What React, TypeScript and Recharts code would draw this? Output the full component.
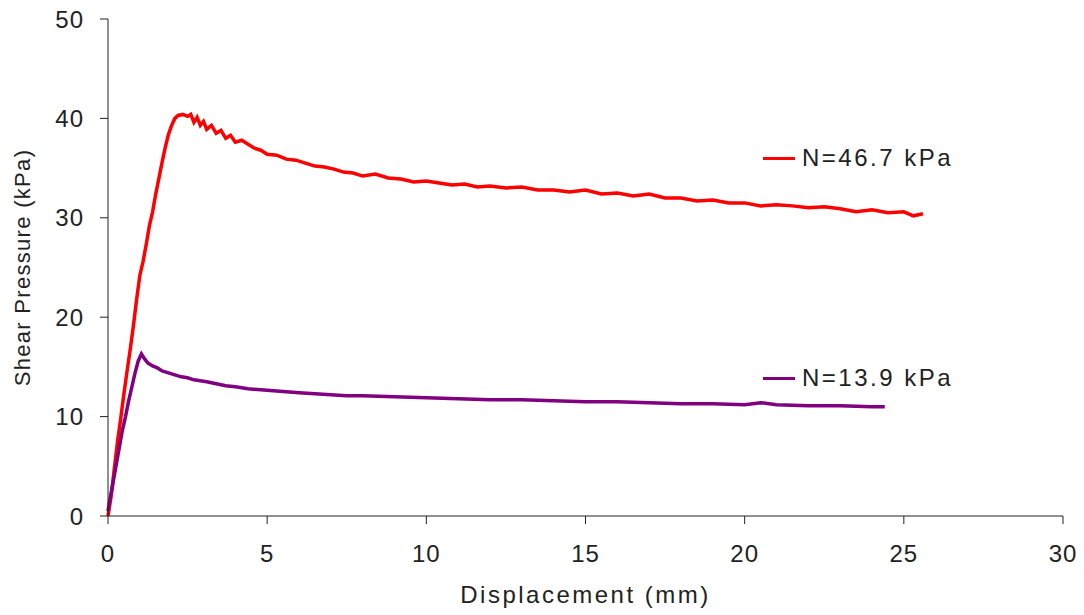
import { LineChart, Line, XAxis, YAxis } from "recharts"

const xTicks = [0, 5, 10, 15, 20, 25, 30]
const yTicks = [0, 10, 20, 30, 40, 50]

// displacement (mm) / shear pressure (kPa)
const highX = [
  0, 0.1, 0.2, 0.3, 0.4, 0.5, 0.6, 0.7, 0.8, 0.9, 1.0, 1.1, 1.2, 1.3, 1.4, 1.5, 1.6, 1.7, 1.8, 1.9,
  2.0, 2.1, 2.2, 2.35, 2.5, 2.6, 2.7, 2.8, 2.9, 3.0, 3.1, 3.25, 3.4, 3.55, 3.7, 3.85, 4.0, 4.2, 4.4,
  4.6, 4.8, 5.0, 5.3, 5.6, 5.9, 6.2, 6.5, 6.8, 7.1, 7.4, 7.7, 8.0, 8.4, 8.8, 9.2, 9.6, 10.0, 10.4,
  10.8, 11.2, 11.6, 12.0, 12.5, 13.0, 13.5, 14.0, 14.5, 15.0, 15.5, 16.0, 16.5, 17.0, 17.5, 18.0,
  18.5, 19.0, 19.5, 20.0, 20.5, 21.0, 21.5, 22.0, 22.5, 23.0, 23.5, 24.0, 24.5, 25.0, 25.3, 25.6,
]
const highY = [
  0, 2, 4.8, 7.5, 9.8, 12.3, 14.6, 16.8, 19.2, 21.8, 24.2, 25.6, 27.3, 29.2, 30.6, 32.4, 34.0, 35.6,
  37.1, 38.4, 39.3, 40.0, 40.3, 40.4, 40.2, 40.4, 39.6, 40.1, 39.3, 39.7, 38.9, 39.3, 38.5, 38.8,
  38.0, 38.3, 37.6, 37.8, 37.4, 37.0, 36.8, 36.4, 36.3, 35.9, 35.8, 35.5, 35.2, 35.1, 34.9, 34.6,
  34.5, 34.2, 34.4, 34.0, 33.9, 33.6, 33.7, 33.5, 33.3, 33.4, 33.1, 33.2, 33.0, 33.1, 32.8, 32.8,
  32.6, 32.8, 32.4, 32.5, 32.2, 32.4, 32.0, 32.0, 31.7, 31.8, 31.5, 31.5, 31.2, 31.3, 31.2, 31.0,
  31.1, 30.9, 30.6, 30.8, 30.5, 30.6, 30.2, 30.4,
]

const lowX = [
  0, 0.05, 0.15, 0.25, 0.35, 0.45, 0.55, 0.65, 0.75, 0.85, 0.95, 1.05, 1.15, 1.25, 1.4, 1.55, 1.7,
  1.9, 2.1, 2.3, 2.5, 2.7, 2.9, 3.1, 3.4, 3.7, 4.0, 4.4, 4.8, 5.2, 5.6, 6.0, 6.5, 7.0, 7.5, 8.0, 9.0,
  10.0, 11.0, 12.0, 13.0, 14.0, 15.0, 16.0, 17.0, 18.0, 19.0, 20.0, 20.5, 21.0, 22.0, 23.0, 24.0, 24.4,
]
const lowY = [
  0.5, 1.5, 3.2, 5.0, 6.8, 8.6, 10.0, 11.6, 13.0, 14.4, 15.6, 16.3, 15.8, 15.4, 15.1, 14.9, 14.6,
  14.4, 14.2, 14.0, 13.9, 13.7, 13.6, 13.5, 13.3, 13.1, 13.0, 12.8, 12.7, 12.6, 12.5, 12.4, 12.3,
  12.2, 12.1, 12.1, 12.0, 11.9, 11.8, 11.7, 11.7, 11.6, 11.5, 11.5, 11.4, 11.3, 11.3, 11.2, 11.4,
  11.2, 11.1, 11.1, 11.0, 11.0,
]

const highData = highX.map((x, i) => ({ x, y: highY[i] }))
const lowData = lowX.map((x, i) => ({ x, y: lowY[i] }))

const font = "Arial, 'Liberation Sans', sans-serif"
const tickStyle = { fontSize: 24, fill: "#222", fontFamily: font, letterSpacing: 1 }

function Tag({ top, color, text }: { top: number; color: string; text: string }) {
  return (
    <div
      style={{
        position: "absolute",
        left: 763,
        top,
        display: "flex",
        alignItems: "center",
        fontFamily: font,
        fontSize: 24,
        letterSpacing: 2.5,
        color: "#222",
        whiteSpace: "nowrap",
      }}
    >
      <span style={{ display: "inline-block", width: 32, height: 3, background: color, marginRight: 7 }} />
      {text}
    </div>
  )
}

export default function App() {
  return (
    <div style={{ position: "absolute", left: 0, top: 0, width: 1084, height: 615, background: "#fff" }}>
      <LineChart width={1084} height={615} data={highData} margin={{ top: 19, right: 21, bottom: 0, left: 0 }}>
        <XAxis
          dataKey="x"
          type="number"
          domain={[0, 30]}
          ticks={xTicks}
          tickSize={8}
          tickMargin={21}
          height={99}
          stroke="#222"
          tick={tickStyle}
          label={{
            value: "Displacement (mm)",
            position: "insideBottom",
            offset: 12,
            style: { fontSize: 24, fill: "#222", fontFamily: font, letterSpacing: 2.5, textAnchor: "middle" },
          }}
        />
        <YAxis
          type="number"
          domain={[0, 50]}
          ticks={yTicks}
          tickSize={8}
          tickMargin={16}
          width={108}
          stroke="#222"
          tick={tickStyle}
          label={{
            value: "Shear Pressure (kPa)",
            angle: -90,
            position: "insideLeft",
            offset: 22,
            style: { fontSize: 22, fill: "#222", fontFamily: font, letterSpacing: 1.3, textAnchor: "middle" },
          }}
        />
        <Line data={highData} dataKey="y" stroke="#ff0000" strokeWidth={3.5} dot={false} isAnimationActive={false} />
        <Line data={lowData} dataKey="y" stroke="#800080" strokeWidth={3.5} dot={false} isAnimationActive={false} />
      </LineChart>
      <Tag top={144} color="#ff0000" text="N=46.7 kPa" />
      <Tag top={364} color="#800080" text="N=13.9 kPa" />
    </div>
  )
}
